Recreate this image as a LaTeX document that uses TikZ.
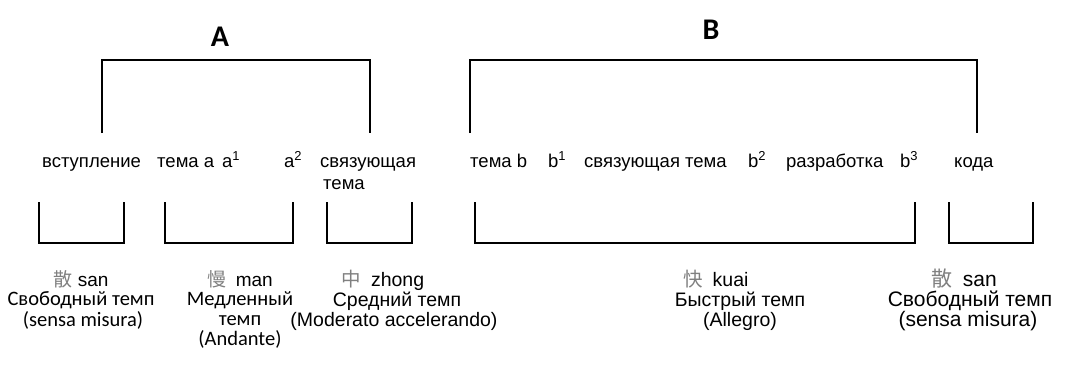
\documentclass[tikz,border=0pt]{standalone}
\usepackage{fontspec}
\setmainfont{Liberation Sans}
\newfontfamily\calib{Carlito}
\newfontfamily\cjk{Noto Sans CJK SC}
\definecolor{hanzi}{gray}{0.5}
\newcommand{\hz}[1]{{\cjk\color{hanzi}#1}}

\begin{document}
\begin{tikzpicture}[x=1pt,y=-1pt,
  bracket/.style={line width=1.5pt, line join=miter},
  part/.style={font=\calib\bfseries\fontsize{30}{32}\selectfont, inner sep=0pt},
  item/.style={anchor=base west, inner sep=0pt, font=\fontsize{18.5}{20}\selectfont},
  tempo/.style={anchor=base, inner sep=0pt, font=\fontsize{19.5}{21}\selectfont},
  tempos/.style={anchor=base, inner sep=0pt, font=\fontsize{19}{21}\selectfont},
  tempol/.style={anchor=base, inner sep=0pt, font=\fontsize{21}{23}\selectfont},
  tempoc/.style={anchor=base, inner sep=0pt, font=\calib\fontsize{20.5}{22}\selectfont}]
\useasboundingbox (0,0) rectangle (1092,376);

% upper brackets: sections A and B
\coordinate (A1) at (102,133); \coordinate (A2) at (102,60);
\coordinate (A3) at (370,60);  \coordinate (A4) at (370,133);
\draw[bracket] (A1) -- (A2) -- (A3) -- (A4);
\coordinate (B1) at (470,133); \coordinate (B2) at (470,60);
\coordinate (B3) at (977,60);  \coordinate (B4) at (977,133);
\draw[bracket] (B1) -- (B2) -- (B3) -- (B4);
\node[part] (labA) at (220,37) {A};
\node[part] (labB) at (711,30) {B};

% row of thematic sections
\node[item] (intro) at (42,167)  {вступление};
\node[item] (tha)   at (157,167) {тема a};
\node[item] (a1)    at (222,167) {a\textsuperscript{1}};
\node[item] (a2)    at (284,167) {a\textsuperscript{2}};
\node[item] (link)  at (320,167) {связующая};
\node[item] (link2) at (323,189) {тема};
\node[item] (thb)   at (470,167) {тема b};
\node[item] (b1)    at (548,167) {b\textsuperscript{1}};
\node[item] (linkb) at (584,167) {связующая тема};
\node[item] (b2)    at (748,167) {b\textsuperscript{2}};
\node[item] (dev)   at (786,167) {разработка};
\node[item] (b3)    at (900,167) {b\textsuperscript{3}};
\node[item] (coda)  at (954,167) {кода};

% lower brackets: tempo zones
\foreach \n/\l/\r in {s1/39/124, s2/165/293, s3/327/412, s4/475/915, s5/949/1033}{
  \coordinate (\n a) at (\l,202); \coordinate (\n b) at (\l,243);
  \coordinate (\n c) at (\r,243); \coordinate (\n d) at (\r,202);
  \draw[bracket] (\n a) -- (\n b) -- (\n c) -- (\n d);
}

% tempo labels
\node[tempos] (san1)  at (81,286)  {\hz{散} san};
\node[tempoc] (san1r) at (81,305)  {Свободный темп};
\node[tempoc] (san1i) at (83,326)  {(sensa misura)};

\node[tempos] (man)   at (240,286) {\hz{慢}\enspace man};
\node[tempoc] (manr)  at (240,305) {Медленный};
\node[tempoc] (manr2) at (240,325) {темп};
\node[tempoc] (mani)  at (240,345) {(Andante)};

\node[tempo]  (zh)    at (383,286) {\hz{中}\enspace zhong};
\node[tempo]  (zhr)   at (397,306) {Средний темп};
\node[tempo]  (zhi)   at (394,326) {(Moderato accelerando)};

\node[tempo]  (ku)    at (716,286) {\hz{快}\enspace kuai};
\node[tempo]  (kur)   at (740,306) {Быстрый темп};
\node[tempo]  (kui)   at (740,326) {(Allegro)};

\node[tempol] (san2)  at (964,286) {\hz{散}\enspace san};
\node[tempol] (san2r) at (970,306) {Свободный темп};
\node[tempol] (san2i) at (968,326) {(sensa misura)};
\end{tikzpicture}
\end{document}
